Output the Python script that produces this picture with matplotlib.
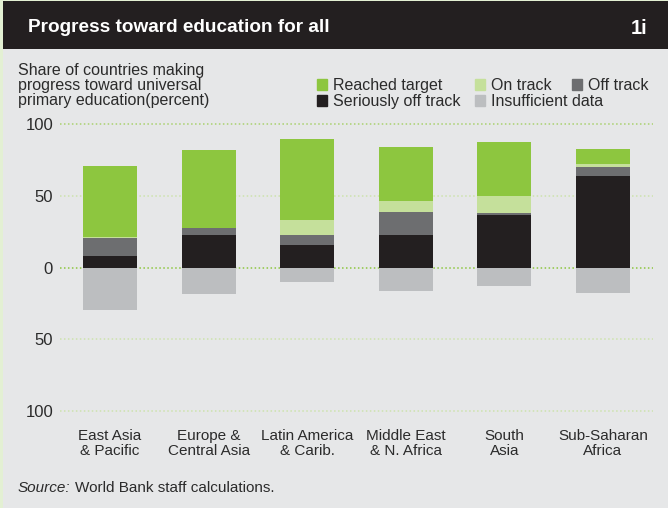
import matplotlib
matplotlib.use("Agg")
import matplotlib.pyplot as plt
from matplotlib.patches import Rectangle, Patch
import numpy as np

# data (percent of countries)
regions = ["East Asia\n& Pacific", "Europe &\nCentral Asia", "Latin America\n& Carib.",
           "Middle East\n& N. Africa", "South\nAsia", "Sub-Saharan\nAfrica"]
seriously_off = [8, 23, 16, 23, 37, 64]
off_track = [12.5, 5, 7, 15.5, 1, 6]
on_track = [1, 0, 10, 8, 12, 2]
reached = [49.5, 54, 57, 38, 38, 11]
insufficient = [29.5, 18.5, 10, 16, 13, 17.5]
yticks = [-100, -50, 0, 50, 100]
ytick_labels = ["100", "50", "0", "50", "100"]

BG = "#e6e7e8"
GREEN = "#8dc63f"
LIGHT_GREEN = "#c5e09b"
OFF = "#6d6e70"
BLACK = "#231f20"
INSUF = "#bcbec0"
TXT = "#2b2b2b"

plt.rcParams["font.family"] = ["Liberation Sans", "DejaVu Sans"]

W, H = 668, 508
fig = plt.figure(figsize=(W / 100, H / 100), dpi=100)
fig.patch.set_facecolor(BG)

def fx(px):
    return px / W

def fy(py):
    return 1 - py / H

# frame decorations
fig.patches.append(Rectangle((0, 0), fx(3), 1, transform=fig.transFigure,
                             facecolor="#e3f0d3", edgecolor="none", zorder=0))
fig.patches.append(Rectangle((0, fy(1)), 1, 1 - fy(1), transform=fig.transFigure,
                             facecolor="#e3f0d3", edgecolor="none", zorder=0))
fig.patches.append(Rectangle((fx(3), fy(49)), 1 - fx(3), fy(1) - fy(49),
                             transform=fig.transFigure, facecolor=BLACK,
                             edgecolor="none", zorder=1))
fig.text(fx(28), fy(28), "Progress toward education for all", color="white",
         fontsize=13.7, fontweight="bold", va="center", ha="left")
fig.text(fx(647), fy(28), "1i", color="white", fontsize=14.5,
         fontweight="bold", va="center", ha="right")

fig.text(fx(18), fy(63), "Share of countries making\nprogress toward universal\nprimary education(percent)",
         fontsize=11.5, color=TXT, va="top", ha="left", linespacing=1.0)

# axes
ax = fig.add_axes([fx(60), fy(411), fx(653) - fx(60), fy(124.3) - fy(411)])
ax.set_facecolor("none")
x = np.arange(len(regions))
w = 0.547

b1 = np.array(seriously_off)
b2 = b1 + np.array(off_track)
b3 = b2 + np.array(on_track)
ax.bar(x, seriously_off, w, color=BLACK, zorder=3)
ax.bar(x, off_track, w, bottom=b1, color=OFF, zorder=3)
ax.bar(x, on_track, w, bottom=b2, color=LIGHT_GREEN, zorder=3)
ax.bar(x, reached, w, bottom=b3, color=GREEN, zorder=3)
ax.bar(x, -np.array(insufficient), w, color=INSUF, zorder=3)

grid_colors = {100: "#a9d16e", 50: "#cde3ad", 0: "#8dc63f", -50: "#cde3ad", -100: "#cde3ad"}
for t in yticks:
    ax.axhline(t, color=grid_colors[t], lw=1.1, ls=(0, (1, 1.6)), zorder=1, clip_on=False)

ax.set_xlim(-0.507, len(regions) - 1 + 0.507)
ax.set_ylim(-100, 100)
ax.set_yticks(yticks, ytick_labels)
ax.set_xticks(x, regions)
ax.tick_params(axis="y", length=0, pad=5, labelsize=12, labelcolor=TXT)
ax.tick_params(axis="x", length=0, pad=13, labelsize=11, labelcolor=TXT)
for lab in ax.get_xticklabels():
    lab.set_linespacing(1.1)
for s in ax.spines.values():
    s.set_visible(False)

# legend: two aligned columns plus "Off track" after "On track"
leg_kw = dict(loc="upper left", frameon=False, fontsize=11.5, borderpad=0,
              borderaxespad=0, handlelength=0.65, handleheight=0.65,
              handletextpad=0.35, labelspacing=0.05, labelcolor=TXT)
col1 = [Patch(color=GREEN, label="Reached target"),
        Patch(color=BLACK, label="Seriously off track")]
col2 = [Patch(color=LIGHT_GREEN, label="On track"),
        Patch(color=INSUF, label="Insufficient data")]
col3 = [Patch(color=OFF, label="Off track")]
l1 = fig.legend(handles=col1, bbox_to_anchor=(fx(317), fy(78)), **leg_kw)
l2 = fig.legend(handles=col2, bbox_to_anchor=(fx(475), fy(78)), **leg_kw)
l3 = fig.legend(handles=col3, bbox_to_anchor=(fx(572), fy(78)), **leg_kw)

# source
src = fig.text(fx(18), fy(488), "Source:", fontsize=11, style="italic",
               color=TXT, va="center", ha="left")
fig.canvas.draw()
ax.annotate("World Bank staff calculations.", xy=(1, 0.5), xycoords=src,
            xytext=(3, 0), textcoords="offset points",
            fontsize=11, color=TXT, va="center", ha="left")

fig.savefig("out.png", dpi=100, facecolor=BG)
